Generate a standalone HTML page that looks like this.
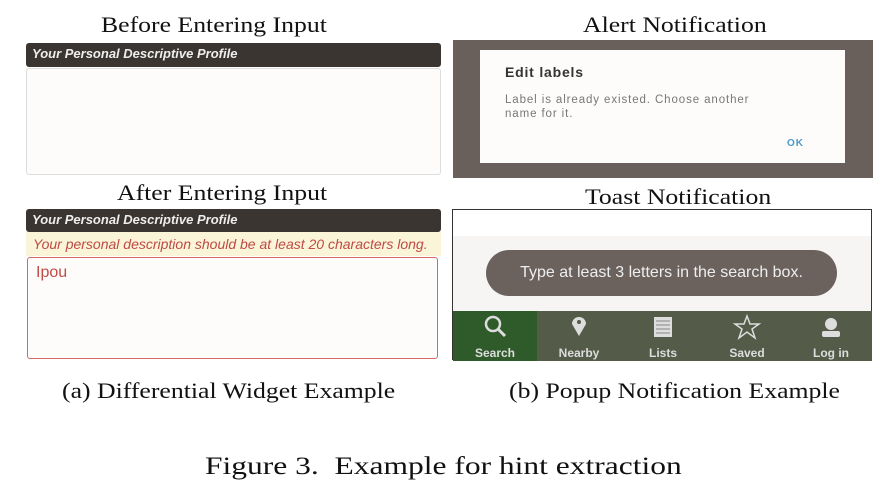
<!DOCTYPE html>
<html><head><meta charset="utf-8"><style>
body{margin:0;width:894px;height:493px;background:#fff;position:relative;overflow:hidden;font-family:"Liberation Sans",sans-serif}
.a{position:absolute}
.t{font-family:"Liberation Serif",serif;font-size:22px;color:#111;white-space:nowrap;position:absolute;transform:scaleX(1.17);transform-origin:0 0}
.bar{background:#3a3530;color:#eee;font-weight:bold;font-style:italic;font-size:13px;border-radius:3px;padding-left:6px;box-sizing:border-box;line-height:22px}
</style></head><body>
<div class="t" style="left:101px;top:12px">Before Entering Input</div>
<div class="a bar" style="left:26px;top:43px;width:415px;height:24px;line-height:22px">Your Personal Descriptive Profile</div>
<div class="a" style="left:26px;top:68px;width:413px;height:105px;border:1px solid #ddd;border-radius:3px;background:#fdfcfb"></div>
<div class="t" style="left:117px;top:180px">After Entering Input</div>
<div class="a bar" style="left:26px;top:209px;width:415px;height:23px">Your Personal Descriptive Profile</div>
<div class="a" style="left:26px;top:232px;width:415px;height:24px;background:#faf4d8;color:#c04a45;font-style:italic;font-size:14px;line-height:24px;padding-left:7px;box-sizing:border-box;white-space:nowrap">Your personal description should be at least 20 characters long.</div>
<div class="a" style="left:27px;top:257px;width:411px;height:102px;border:1.5px solid #d46a66;border-radius:3px;background:#fdfcfb;color:#c04a45;font-size:16px;padding:6px 0 0 8px;box-sizing:border-box">Ipou</div>

<div class="t" style="left:583px;top:12px">Alert Notification</div>
<div class="a" style="left:453px;top:40px;width:420px;height:138px;background:#6a605b"></div>
<div class="a" style="left:480px;top:50px;width:365px;height:113px;background:#fdfcfb"></div>
<div class="a" style="left:505px;top:64px;font-weight:bold;font-size:14px;letter-spacing:0.8px;color:#333">Edit labels</div>
<div class="a" style="left:505px;top:93px;font-size:11.5px;letter-spacing:0.9px;color:#777;line-height:14px;width:320px;white-space:nowrap">Label is already existed. Choose another<br>name for it.</div>
<div class="a" style="left:787px;top:138px;font-size:10px;font-weight:bold;color:#4a9ac8;letter-spacing:1px">OK</div>

<div class="t" style="left:585px;top:184px">Toast Notification</div>
<div class="a" style="left:452px;top:209px;width:420px;height:151px;border:1px solid #333;background:#f6f5f3;box-sizing:border-box"></div>
<div class="a" style="left:453px;top:210px;width:418px;height:26px;background:#fff"></div>
<div class="a" style="left:486px;top:250px;width:351px;height:46px;border-radius:23px;background:#6b625e;color:#eee;font-size:16px;line-height:46px;text-align:center">Type at least 3 letters in the search box.</div>
<div class="a" style="left:453px;top:311px;width:419px;height:50px;background:#545b48"></div>
<div class="a" style="left:453px;top:311px;width:84px;height:50px;background:#2f5a2a"></div>
<div class="a" style="left:453px;top:346px;width:84px;text-align:center;color:#ddd;font-size:12px;font-weight:bold">Search</div>
<div class="a" style="left:537px;top:346px;width:84px;text-align:center;color:#ddd;font-size:12px;font-weight:bold">Nearby</div>
<div class="a" style="left:621px;top:346px;width:84px;text-align:center;color:#ddd;font-size:12px;font-weight:bold">Lists</div>
<div class="a" style="left:705px;top:346px;width:84px;text-align:center;color:#ddd;font-size:12px;font-weight:bold">Saved</div>
<div class="a" style="left:789px;top:346px;width:84px;text-align:center;color:#ddd;font-size:12px;font-weight:bold">Log in</div>
<svg class="a" style="left:453px;top:311px" width="420" height="36">
<circle cx="40" cy="13" r="7" fill="none" stroke="#ddd" stroke-width="2.5"/><line x1="45" y1="18" x2="52" y2="25" stroke="#ddd" stroke-width="3"/>
<path d="M126 25 L119 13 A7 7 0 1 1 133 13 Z" fill="#ddd"/><circle cx="126" cy="11" r="2" fill="#545b48"/>
<rect x="201" y="6" width="18" height="20" fill="#ddd"/><g stroke="#888" stroke-width="1"><line x1="203" y1="10" x2="217" y2="10"/><line x1="203" y1="14" x2="217" y2="14"/><line x1="203" y1="18" x2="217" y2="18"/><line x1="203" y1="22" x2="217" y2="22"/></g>
<polygon points="294,5 297,13 306,13 299,18 302,27 294,21 286,27 289,18 282,13 291,13" fill="none" stroke="#ddd" stroke-width="1.5"/>
<circle cx="378" cy="13" r="6" fill="#ddd"/><rect x="369" y="20" width="18" height="6" rx="2" fill="#ddd"/>
</svg>

<div class="t" style="left:62px;top:378px">(a) Differential Widget Example</div>
<div class="t" style="left:509px;top:378px">(b) Popup Notification Example</div>
<div class="t" style="left:205px;top:453px;font-size:25px;transform:scaleX(1.26)">Figure 3.&nbsp; Example for hint extraction</div>
</body></html>
